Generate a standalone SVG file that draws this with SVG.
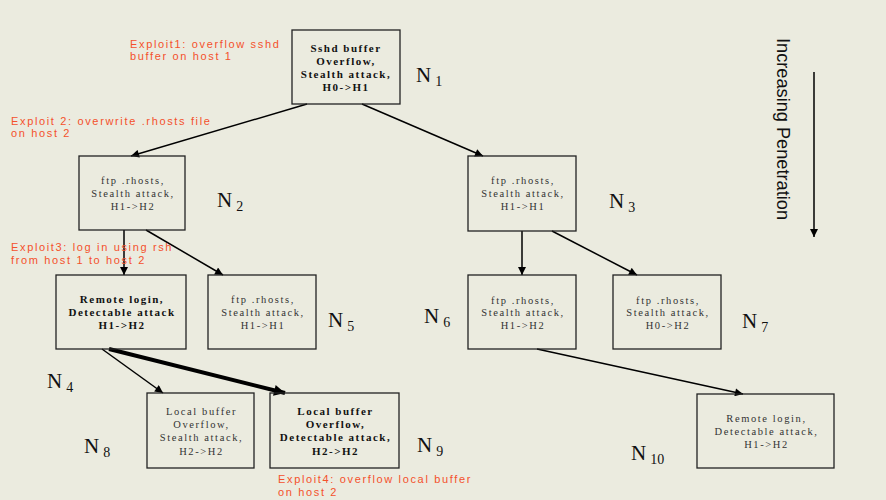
<svg xmlns="http://www.w3.org/2000/svg" width="886" height="500" viewBox="0 0 886 500">
<defs>
<style>
.bg{fill:#EBEBDF}
.box{fill:none;stroke:#222;stroke-width:1.3}
.t{font-family:"Liberation Serif","Times New Roman",serif;font-size:10.5px;letter-spacing:1.6px;fill:#333;text-anchor:middle}
.b{font-family:"Liberation Serif","Times New Roman",serif;font-size:11px;font-weight:bold;letter-spacing:1.5px;fill:#111;text-anchor:middle}
.ex{font-family:"Liberation Sans",Arial,sans-serif;font-size:11px;letter-spacing:1.65px;fill:#F4512C}
.n{font-family:"Liberation Serif","Times New Roman",serif;font-size:21px;fill:#111}
.s{font-size:14px}
.e{fill:none;stroke:#000;stroke-width:1.5}
.ek{fill:none;stroke:#000;stroke-width:4}
</style>
<marker id="ah" viewBox="0 0 10 10" refX="10" refY="5" markerUnits="userSpaceOnUse" markerWidth="10" markerHeight="8" orient="auto"><path d="M0,0L10,5L0,10z" fill="#000"/></marker>
<marker id="ahk" viewBox="0 0 10 10" refX="10" refY="5" markerUnits="userSpaceOnUse" markerWidth="14" markerHeight="11" orient="auto"><path d="M0,0L10,5L0,10z" fill="#000"/></marker>
</defs>
<rect class="bg" x="0" y="0" width="886" height="500"/>

<g id="connectors">
<line class="e" x1="307" y1="104" x2="131" y2="156" marker-end="url(#ah)"/>
<line class="e" x1="362" y1="104" x2="483" y2="156" marker-end="url(#ah)"/>
<line class="e" x1="124" y1="230" x2="124" y2="275" marker-end="url(#ah)"/>
<line class="e" x1="146" y1="230" x2="223" y2="275" marker-end="url(#ah)"/>
<line class="e" x1="522" y1="231" x2="522" y2="275" marker-end="url(#ah)"/>
<line class="e" x1="552" y1="231" x2="637" y2="275" marker-end="url(#ah)"/>
<line class="e" x1="102" y1="349" x2="163" y2="393" marker-end="url(#ah)"/>
<line class="ek" x1="109" y1="349" x2="285" y2="393" marker-end="url(#ahk)"/>
<line class="e" x1="537" y1="349" x2="743" y2="394" marker-end="url(#ah)"/>
<line class="e" x1="814" y1="72" x2="814" y2="237" marker-end="url(#ah)"/>
</g>

<g id="N1">
<rect class="box" x="292" y="30" width="108" height="74"/>
<text class="b" x="346" y="52">Sshd buffer</text>
<text class="b" x="346" y="65">Overflow,</text>
<text class="b" x="346" y="78">Stealth attack,</text>
<text class="b" x="346" y="91">H0-&gt;H1</text>
<text class="n" x="416" y="82">N<tspan class="s" dx="4" dy="4">1</tspan></text>
</g>

<g id="N2">
<rect class="box" x="79" y="156" width="106" height="74"/>
<text class="t" x="133" y="184">ftp .rhosts,</text>
<text class="t" x="133" y="197">Stealth attack,</text>
<text class="t" x="133" y="210">H1-&gt;H2</text>
<text class="n" x="217" y="207">N<tspan class="s" dx="4" dy="4">2</tspan></text>
</g>

<g id="N3">
<rect class="box" x="468" y="156" width="108" height="75"/>
<text class="t" x="523" y="184">ftp .rhosts,</text>
<text class="t" x="523" y="197">Stealth attack,</text>
<text class="t" x="523" y="210">H1-&gt;H1</text>
<text class="n" x="609" y="208">N<tspan class="s" dx="4" dy="4">3</tspan></text>
</g>

<g id="N4">
<rect class="box" x="56" y="275" width="130" height="74"/>
<text class="b" x="122" y="303">Remote login,</text>
<text class="b" x="122" y="316">Detectable attack</text>
<text class="b" x="122" y="329">H1-&gt;H2</text>
<text class="n" x="47" y="388">N<tspan class="s" dx="4" dy="4">4</tspan></text>
</g>

<g id="N5">
<rect class="box" x="208" y="275" width="108" height="74"/>
<text class="t" x="263" y="303">ftp .rhosts,</text>
<text class="t" x="263" y="316">Stealth attack,</text>
<text class="t" x="263" y="329">H1-&gt;H1</text>
<text class="n" x="328" y="327">N<tspan class="s" dx="4" dy="4">5</tspan></text>
</g>

<g id="N6">
<rect class="box" x="468" y="275" width="108" height="74"/>
<text class="t" x="523" y="304">ftp .rhosts,</text>
<text class="t" x="523" y="316">Stealth attack,</text>
<text class="t" x="523" y="329">H1-&gt;H2</text>
<text class="n" x="424" y="323">N<tspan class="s" dx="4" dy="4">6</tspan></text>
</g>

<g id="N7">
<rect class="box" x="613" y="275" width="108" height="74"/>
<text class="t" x="668" y="304">ftp .rhosts,</text>
<text class="t" x="668" y="316">Stealth attack,</text>
<text class="t" x="668" y="329">H0-&gt;H2</text>
<text class="n" x="742" y="328">N<tspan class="s" dx="4" dy="4">7</tspan></text>
</g>

<g id="N8">
<rect class="box" x="147" y="393" width="107" height="75"/>
<text class="t" x="201.5" y="415">Local buffer</text>
<text class="t" x="201.5" y="428">Overflow,</text>
<text class="t" x="201.5" y="441">Stealth attack,</text>
<text class="t" x="201.5" y="455">H2-&gt;H2</text>
<text class="n" x="84" y="453">N<tspan class="s" dx="4" dy="4">8</tspan></text>
</g>

<g id="N9">
<rect class="box" x="270" y="393" width="129" height="75"/>
<text class="b" x="335.5" y="415">Local buffer</text>
<text class="b" x="335.5" y="428">Overflow,</text>
<text class="b" x="335.5" y="441">Detectable attack,</text>
<text class="b" x="335.5" y="455">H2-&gt;H2</text>
<text class="n" x="417" y="452">N<tspan class="s" dx="4" dy="4">9</tspan></text>
</g>

<g id="N10">
<rect class="box" x="697" y="394" width="137" height="74"/>
<text class="t" x="766.5" y="422">Remote login,</text>
<text class="t" x="766.5" y="435">Detectable attack,</text>
<text class="t" x="766.5" y="448">H1-&gt;H2</text>
<text class="n" x="631" y="460">N<tspan class="s" dx="4" dy="4">10</tspan></text>
</g>

<g id="labels">
<text class="ex" x="130" y="48">Exploit1: overflow sshd</text>
<text class="ex" x="130" y="60">buffer on host 1</text>
<text class="ex" x="11" y="125">Exploit 2: overwrite .rhosts file</text>
<text class="ex" x="11" y="137">on host 2</text>
<text class="ex" x="11" y="251">Exploit3: log in using rsh</text>
<text class="ex" x="11" y="264">from host 1 to host 2</text>
<text class="ex" x="278" y="483">Exploit4: overflow local buffer</text>
<text class="ex" x="278" y="496">on host 2</text>
<text transform="translate(777,38) rotate(90)" font-family="Liberation Sans,Arial,sans-serif" font-size="19" fill="#111" textLength="182" lengthAdjust="spacingAndGlyphs">Increasing Penetration</text>
</g>
</svg>
